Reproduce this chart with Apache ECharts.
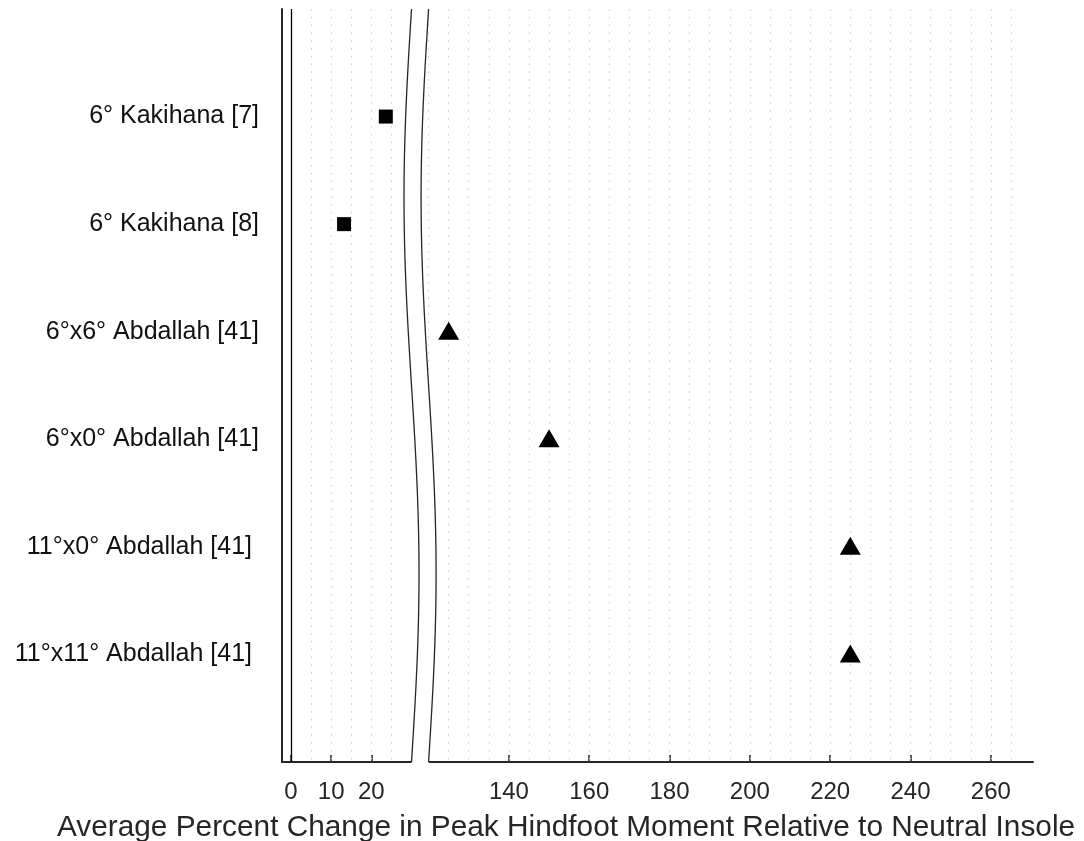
<!DOCTYPE html>
<html>
<head>
<meta charset="utf-8">
<script src="https://cdn.jsdelivr.net/npm/echarts@6/dist/echarts.min.js"></script>
<style>
  html, body { margin: 0; padding: 0; background: #ffffff; }
  #chart { width: 1084px; height: 841px; }
</style>
</head>
<body>
<div id="chart"></div>
<script>
// Study labels, top to bottom (row 1..6 on the vertical axis)
const studies = [
  '6° Kakihana [7]',
  '6° Kakihana [8]',
  '6°x6° Abdallah [41]',
  '6°x0° Abdallah [41]',
  '11°x0° Abdallah [41] ',
  '11°x11° Abdallah [41] '
];

// Kakihana results (square markers)
const kakihanaRows = [1, 2];
const kakihanaChange = [23.6, 13.2];

// Abdallah results (triangle markers)
const abdallahRows = [3, 4, 5, 6];
const abdallahChange = [125, 150, 225, 225];

// Horizontal axis: labelled ticks, dotted guide lines, and the skipped range
const xTickValues = [0, 10, 20, 140, 160, 180, 200, 220, 240, 260];
const xGridValues = [5, 10, 15, 20, 25,
  120, 125, 130, 135, 140, 145, 150, 155, 160, 165, 170, 175, 180, 185, 190,
  195, 200, 205, 210, 215, 220, 225, 230, 235, 240, 245, 250, 255, 260, 265];
const axisBreak = { start: 30, end: 120 };

const FONT = 'Liberation Sans, Arial, Helvetica, sans-serif';
const INK = '#262626';

const chart = echarts.init(document.getElementById('chart'), null, { renderer: 'canvas' });

const gridLineStyle = { color: '#c8c8c8', width: 1, type: [1.5, 6.3] };

chart.setOption({
  animation: false,
  backgroundColor: '#ffffff',
  title: {
    text: 'Average Percent Change in Peak Hindfoot Moment Relative to Neutral Insole',
    left: 57,
    top: 813,
    padding: 0,
    textStyle: { fontFamily: FONT, fontSize: 29.8, fontWeight: 'normal', color: INK }
  },
  grid: { left: 282, right: 51, top: 9, bottom: 79, containLabel: false },
  xAxis: {
    type: 'value',
    min: -2.25,
    max: 270.5,
    breaks: [{ start: axisBreak.start, end: axisBreak.end, gap: 4.25 }],
    breakArea: {
      show: true,
      expandOnClick: false,
      zigzagAmplitude: 0,
      itemStyle: { color: 'rgba(255,255,255,0)', borderColor: 'rgba(0,0,0,0)', borderWidth: 0, opacity: 0 }
    },
    axisLine: { show: true, onZero: false, lineStyle: { color: INK, width: 2 } },
    axisTick: {
      show: true, inside: true, length: 7,
      customValues: xTickValues,
      lineStyle: { color: INK, width: 1.5 }
    },
    axisLabel: {
      customValues: xTickValues,
      fontFamily: FONT, fontSize: 24, color: INK, margin: 18
    },
    splitLine: { show: false }
  },
  yAxis: {
    type: 'value',
    inverse: true,
    min: 0,
    max: 7,
    interval: 1,
    axisLine: { show: true, onZero: false, lineStyle: { color: INK, width: 2 } },
    axisTick: { show: false },
    splitLine: { show: false },
    axisLabel: {
      fontFamily: FONT, fontSize: 25, color: '#111111', margin: 23,
      formatter: function (v) { return studies[v - 1] || ''; }
    }
  },
  series: [
    {
      type: 'line',
      data: [],
      silent: true,
      markLine: {
        silent: true,
        animation: false,
        symbol: ['none', 'none'],
        label: { show: false },
        data: xGridValues.map(function (v) {
          return { xAxis: v, lineStyle: gridLineStyle };
        }).concat([{ xAxis: 0, lineStyle: { color: '#000000', width: 1.3, type: 'solid' } }])
      }
    },
    {
      name: 'Kakihana',
      type: 'scatter',
      symbol: 'rect',
      symbolSize: 14,
      itemStyle: { color: '#000000', opacity: 1 },
      data: kakihanaChange.map(function (v, i) { return [v, kakihanaRows[i]]; }),
      z: 5
    },
    {
      name: 'Abdallah',
      type: 'scatter',
      symbol: 'triangle',
      symbolSize: [21, 18],
      symbolOffset: [0, -1],
      itemStyle: { color: '#000000', opacity: 1 },
      data: abdallahChange.map(function (v, i) { return [v, abdallahRows[i]]; }),
      z: 5
    }
  ]
});

// Wavy break marks across the skipped range of the horizontal axis,
// with the band between them blanked out
function drawBreakMarks() {
  const xa = chart.convertToPixel({ xAxisIndex: 0 }, axisBreak.start);
  const xb = chart.convertToPixel({ xAxisIndex: 0 }, axisBreak.end);
  const top = chart.convertToPixel({ yAxisIndex: 0 }, 0);
  const bottom = chart.convertToPixel({ yAxisIndex: 0 }, 7);
  const sway = 7.5;

  // One full gentle wave from the top of the plot to the bottom
  function wave(x) {
    const pts = [];
    const steps = 80;
    for (let k = 0; k <= steps; k++) {
      const t = k / steps;
      pts.push([x - sway * Math.sin(2 * Math.PI * t), top + t * (bottom - top)]);
    }
    return pts;
  }
  const left = wave(xa);
  const right = wave(xb);
  const bandPts = left.concat([[xa, bottom + 2], [xb, bottom + 2]], right.slice().reverse());

  chart.setOption({
    graphic: [
      { type: 'polygon', silent: true, z: 50, shape: { points: bandPts }, style: { fill: '#ffffff', stroke: null } },
      { type: 'polyline', silent: true, z: 51, shape: { points: left }, style: { stroke: INK, lineWidth: 1.3, fill: null } },
      { type: 'polyline', silent: true, z: 51, shape: { points: right }, style: { stroke: INK, lineWidth: 1.3, fill: null } }
    ]
  });
}
drawBreakMarks();
</script>
</body>
</html>
